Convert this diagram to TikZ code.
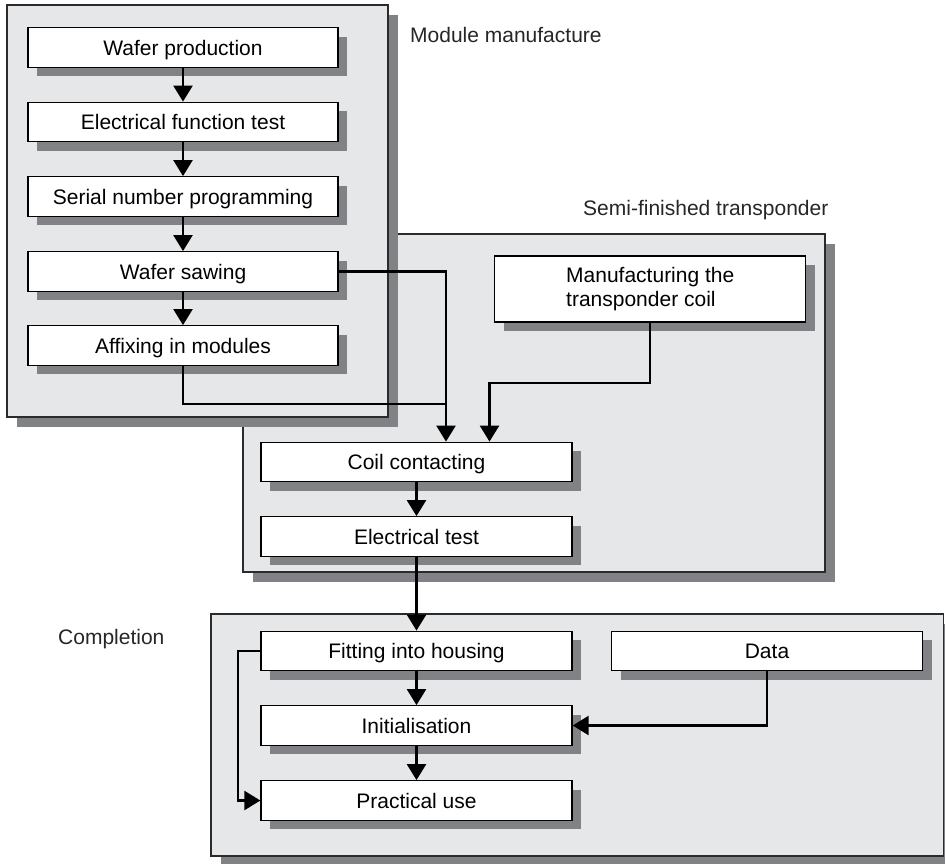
\documentclass[tikz,border=0pt]{standalone}
\usepackage{fontspec}
\setmainfont{Liberation Sans}
\usetikzlibrary{arrows.meta,shadows,calc}
\definecolor{grpfill}{HTML}{E6E7E9}
\definecolor{shadowgray}{HTML}{808285}
\definecolor{edgegray}{HTML}{2B2B2B}
\begin{document}
\begin{tikzpicture}[x=1pt,y=-1pt,
  shade10/.style={drop shadow={shadow xshift=10pt,shadow yshift=-10pt,opacity=1,fill=shadowgray}},
  shade9/.style={drop shadow={shadow xshift=9pt,shadow yshift=-9pt,opacity=1,fill=shadowgray}},
  grp/.style={draw=edgegray,line width=1.3pt,fill=grpfill,shade10},
  pbase/.style={draw=black,line width=1.3pt,fill=white,shade9,inner sep=0pt,
     minimum width=311pt,font=\fontsize{21}{24}\selectfont},
  pbox/.style={pbase,minimum height=39.5pt,text height=15pt,text depth=0pt},
  conn/.style={draw=black,line width=2.4pt},
  arr/.style={conn,-{Triangle[width=19pt,length=16pt]}},
  glabel/.style={anchor=base west,inner sep=0pt,font=\fontsize{21}{24}\selectfont,text=black!85}
]
\useasboundingbox (0,0) rectangle (945,863);
\fill[white] (0,0) rectangle (945,863);

% groups
\path[grp] (243,234) rectangle (825,572);
\path[grp] (7,5) rectangle (388,417);
\path[grp] (211,614) rectangle (943.5,856);

% group labels
\node[glabel] (lmod) at (410,42) {Module manufacture};
\node[glabel] (lsemi) at (583,215) {Semi-finished transponder};
\node[glabel] (lcomp) at (58,644) {Completion};

% module manufacture
\node[pbox,minimum width=310pt] (wp)  at (183,47.5)  {Wafer production};
\node[pbox,minimum width=310pt] (eft) at (183,122)   {Electrical function test};
\node[pbox,minimum width=310pt] (snp) at (183,196.5) {Serial number programming};
\node[pbox,minimum width=310pt] (saw) at (183,271.5) {Wafer sawing};
\node[pbox,minimum width=310pt] (aff) at (183,345.5) {Affixing in modules};

% semi-finished transponder
\node[pbase,minimum height=66pt,align=left] (coil) at (650.25,289) {Manufacturing the\\transponder coil};
\node[pbox] (cc) at (416.5,462) {Coil contacting};
\node[pbox] (et) at (416.5,536.5) {Electrical test};

% completion
\node[pbox] (fit)  at (416.5,651) {Fitting into housing};
\node[pbox] (data) at (767,651) {Data};
\node[pbox] (init) at (416.5,725.5) {Initialisation};
\node[pbox] (pu)   at (416.5,800.5) {Practical use};

% connectors
\draw[arr] (wp) -- (eft);
\draw[arr] (eft) -- (snp);
\draw[arr] (snp) -- (saw);
\draw[arr] (saw) -- (aff);

\coordinate (j1) at (446,404);
\coordinate (j2) at (489.5,383);
\coordinate (j3) at (238,651);
\draw[arr] (saw.east) -| (cc.north -| j1);
\draw[conn] (aff.south) |- (j1);
\draw[arr] (coil.south) |- (j2) -- (cc.north -| j2);
\draw[arr] (cc) -- (et);
\draw[arr] (et) -- (fit);
\draw[arr] (fit) -- (init);
\draw[arr] (init) -- (pu);
\draw[arr] (data.south) |- (init.east);
\draw[arr] (fit.west) -- (j3) |- (pu.west);
\end{tikzpicture}
\end{document}
